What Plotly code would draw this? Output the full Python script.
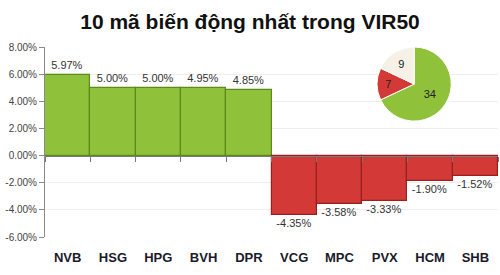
import plotly.graph_objects as go

categories = ["NVB", "HSG", "HPG", "BVH", "DPR", "VCG", "MPC", "PVX", "HCM", "SHB"]
changes = [5.97, 5.00, 5.00, 4.95, 4.85, -4.35, -3.58, -3.33, -1.90, -1.52]
pie_labels = ["Tăng", "Giảm", "Đứng giá"]
pie_values = [34, 7, 9]
y_ticks = [8, 6, 4, 2, 0, -2, -4, -6]

green = "#8fc23a"
green_edge = "#5e8a1c"
red = "#d33a37"
red_edge = "#9a1f1f"

bar_colors = [green if v >= 0 else red for v in changes]
edge_colors = [green_edge if v >= 0 else red_edge for v in changes]

fig = go.Figure()
fig.add_trace(go.Bar(
    x=categories, y=changes, width=1.0,
    marker=dict(color=bar_colors, line=dict(color=edge_colors, width=1.2)),
    texttemplate="%{y:.2f}%", textposition="outside",
    textfont=dict(family="Liberation Sans, Arial, sans-serif", size=11, color="#333333"),
    cliponaxis=False, showlegend=False,
))
# invisible trace for the zero axis (xaxis2)
fig.add_trace(go.Scatter(x=categories, y=[0]*len(categories), xaxis="x2", mode="lines",
                         line=dict(width=0), hoverinfo="skip", showlegend=False))

fig.add_trace(go.Pie(
    labels=pie_labels, values=pie_values, sort=False, direction="clockwise", rotation=0,
    marker=dict(colors=[green, red, "#f6f1e6"], line=dict(color="#ffffff", width=1)),
    textinfo="value", textposition="inside",
    insidetextfont=dict(family="Liberation Sans, Arial, sans-serif", size=11, color="#222222"),
    domain=dict(x=[0.73, 0.90], y=[0.61, 1.0]), showlegend=False, hoverinfo="label+value",
))

fig.update_layout(
    width=500, height=275,
    margin=dict(l=45, r=2, t=47, b=38),
    paper_bgcolor="white", plot_bgcolor="white",
    bargap=0,
    title=dict(text="<b>10 mã biến động nhất trong VIR50</b>", x=0.5, xanchor="center",
               y=0.92, yanchor="middle",
               font=dict(family="Liberation Sans, Arial, sans-serif", size=21, color="#111111")),
    xaxis=dict(type="category", showgrid=False, showline=False, ticks="", zeroline=False,
               tickfont=dict(family="Liberation Sans, Arial, sans-serif", size=13, color="#1a1a2a", weight="bold"),
               ticklabelstandoff=11, range=[-0.5, 9.5]),
    xaxis2=dict(type="category", overlaying="x", anchor="free", position=6/14, side="bottom",
                showline=True, linecolor="#7a7a7a", linewidth=1, ticks="outside", ticklen=5,
                tickcolor="#7a7a7a", tickson="boundaries", showticklabels=False, showgrid=False,
                range=[-0.5, 9.5]),
    yaxis=dict(range=[-6, 8], tickvals=y_ticks, ticktext=[f"{v:.2f}%" for v in y_ticks],
               showgrid=True, gridcolor="#eeeeea", gridwidth=1, zeroline=False,
               showline=True, linecolor="#8a8a8a", linewidth=1, ticks="outside", ticklen=5,
               tickcolor="#8a8a8a",
               tickfont=dict(family="Liberation Sans, Arial, sans-serif", size=10, color="#444444")),
)

fig.write_html("out.html")
